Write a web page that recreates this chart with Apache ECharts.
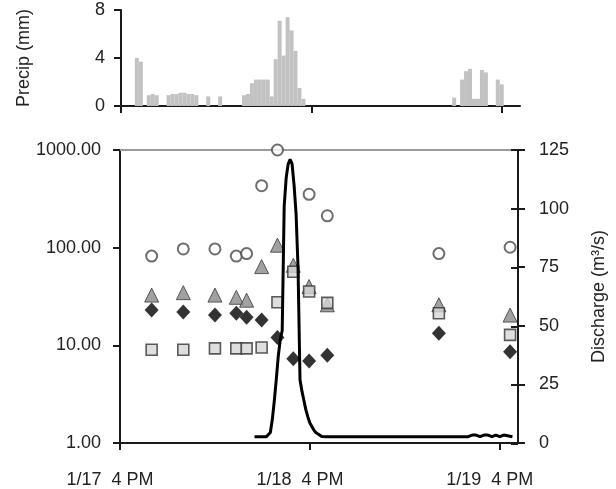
<!DOCTYPE html>
<html>
<head>
<meta charset="utf-8">
<script src="https://cdn.jsdelivr.net/npm/echarts@6/dist/echarts.min.js"></script>
<style>
  html, body { margin: 0; padding: 0; background: #fff; }
  #chart { width: 616px; height: 489px; }
</style>
</head>
<body>
<div id="chart"></div>
<script>
// Time is counted in hours after 1/17 4 PM
const xMaxHours = 50.3;
const tickHours = [0, 24, 48];
const tickLabels = ['1/17  4 PM', '1/18  4 PM', '1/19  4 PM'];
const concTicks = [1, 10, 100, 1000];

// Half-hourly precipitation totals (mm)
const precipHours = [2.0, 2.5, 3.5, 4.0, 4.5, 6.0, 6.5, 7.0, 7.5, 8.0, 8.5, 9.0, 9.5,
  11.0, 12.5, 15.5, 16.0, 16.5, 17.0, 17.5, 18.0, 18.5, 19.0, 19.5, 20.0, 20.5,
  21.0, 21.5, 22.0, 22.5, 23.0,
  42.0, 43.0, 43.5, 44.0, 44.5, 45.0, 45.5, 46.0, 47.5, 48.0];
const precipMm = [4.0, 3.7, 0.9, 1.0, 0.9, 0.9, 1.0, 1.0, 1.1, 1.1, 1.0, 1.0, 0.9,
  0.8, 0.8, 0.9, 1.0, 1.9, 2.2, 2.2, 2.2, 2.2, 0.8, 3.9, 7.1, 4.2,
  7.4, 6.3, 4.6, 1.5, 0.6,
  0.7, 2.2, 2.9, 3.1, 0.6, 0.6, 3.0, 2.8, 2.2, 1.8];

// Grab-sample times (hours) and measured concentrations (log scale)
const sampleHours = [4.0, 8.0, 12.0, 14.7, 16.0, 17.9, 19.9, 21.9, 23.9, 26.2, 40.3, 49.3];
const circleVals   = [82, 97, 97, 82, 87, 431, 1000, null, 352, 212, 87, 101];
const triangleVals = [32.7, 34.6, 32.7, 31, 29, 64, 106, 66, 40, 26, 26, 20.4];
const squareVals   = [9.0, 9.0, 9.3, 9.3, 9.3, 9.5, 27.6, 56.7, 35.6, 27.2, 21.3, 12.8];
const diamondVals  = [23, 22, 20.4, 21.3, 19.4, 18.2, 12, 7.3, 6.9, 7.9, 13.3, 8.6];

// Stream discharge hydrograph (m3/s)
const flowHours = [17, 18, 18.5, 19, 19.25, 19.5, 19.75, 20, 20.25, 20.5, 20.75, 21,
  21.25, 21.5, 21.75, 22, 22.25, 22.5, 22.75, 23, 23.25, 23.5, 23.75, 24, 24.25,
  24.5, 24.75, 25, 25.5, 26, 44, 44.5, 45, 45.5, 46, 46.5, 47, 47.5, 48, 48.5, 49.6];
const flowVals = [2.7, 2.7, 2.7, 4.5, 10, 18, 27, 37, 44, 48, 101, 113,
  119, 121, 119, 110, 98, 75, 27, 22, 18, 14, 11, 8.5, 7,
  5.5, 4.5, 3.8, 2.8, 2.7, 2.7, 3.4, 3.4, 2.7, 3.4, 3.4, 2.7, 3.4, 2.7, 3.4, 2.7];

const zip = (xs, ys) => xs.map((x, i) => [x, ys[i]]);
const zipSkip = (xs, ys) => xs.map((x, i) => [x, ys[i]]).filter(p => p[1] != null);

const FONT = 'Liberation Sans, Arial, sans-serif';
const INK = '#1a1a1a';
const labelStyle = { color: '#222', fontFamily: FONT, fontSize: 18 };
const mainGrid = { left: 120, top: 150, width: 398, height: 294 };

const chart = echarts.init(document.getElementById('chart'), null, { renderer: 'canvas' });

chart.setOption({
  animation: false,
  backgroundColor: '#fff',
  grid: [
    { left: 121, top: 10, width: 399, height: 96 },
    mainGrid,
    // same box again, only carries the inner half of the discharge cross ticks
    { ...mainGrid }
  ],
  xAxis: [
    {
      gridIndex: 0, type: 'value', min: 0, max: xMaxHours,
      axisLine: { lineStyle: { color: INK, width: 2 } },
      axisTick: { customValues: tickHours, length: 7, lineStyle: { color: INK, width: 2 } },
      axisLabel: { show: false },
      splitLine: { show: false }
    },
    {
      gridIndex: 1, type: 'value', min: 0, max: xMaxHours, position: 'bottom',
      axisLine: { onZero: false, lineStyle: { color: INK, width: 2 } },
      axisTick: { customValues: tickHours, length: 7, lineStyle: { color: INK, width: 2 } },
      axisLabel: {
        customValues: tickHours, margin: 28, ...labelStyle,
        padding: [0, 20, 0, 0],
        formatter: v => tickLabels[tickHours.indexOf(v)] || ''
      },
      splitLine: { show: false }
    },
    {
      gridIndex: 1, type: 'value', min: 0, max: xMaxHours, position: 'top',
      axisLine: { onZero: false, lineStyle: { color: '#9a9a9a', width: 2 } },
      axisTick: { show: false }, axisLabel: { show: false }, splitLine: { show: false }
    },
    {
      gridIndex: 2, type: 'value', min: 0, max: xMaxHours, show: false
    }
  ],
  yAxis: [
    {
      gridIndex: 0, type: 'value', min: 0, max: 8, interval: 4,
      name: 'Precip (mm)', nameLocation: 'middle', nameGap: 88, nameRotate: 90,
      nameTextStyle: { ...labelStyle },
      axisLine: { show: true, onZero: false, lineStyle: { color: INK, width: 2 } },
      axisTick: { show: true, length: 7, lineStyle: { color: INK, width: 2 } },
      axisLabel: { margin: 16, ...labelStyle },
      splitLine: { show: false }
    },
    {
      gridIndex: 1, type: 'log', logBase: 10, min: 1, max: 1000,
      interval: 1, splitNumber: 3,
      axisLine: { show: true, onZero: false, lineStyle: { color: INK, width: 2 } },
      axisTick: { show: true, customValues: concTicks, length: 7, lineStyle: { color: INK, width: 2 } },
      minorTick: { show: false },
      axisLabel: {
        customValues: concTicks, margin: 19, ...labelStyle,
        formatter: v => Number(v).toFixed(2)
      },
      splitLine: { show: false }
    },
    {
      gridIndex: 1, type: 'value', position: 'right', min: 0, max: 125, interval: 25,
      name: 'Discharge (m³/s)', nameLocation: 'middle', nameGap: 72, nameRotate: 90,
      nameTextStyle: { ...labelStyle },
      axisLine: { show: true, onZero: false, lineStyle: { color: INK, width: 2 } },
      axisTick: { show: true, length: 7, lineStyle: { color: INK, width: 2 } },
      axisLabel: { margin: 21, ...labelStyle },
      splitLine: { show: false }
    },
    {
      gridIndex: 2, type: 'value', position: 'right', min: 0, max: 125, interval: 25,
      axisLine: { show: false, onZero: false },
      axisTick: { show: true, inside: true, length: 7, lineStyle: { color: INK, width: 2 } },
      axisLabel: { show: false },
      splitLine: { show: false }
    }
  ],
  series: [
    {
      name: 'Precip', type: 'bar', xAxisIndex: 0, yAxisIndex: 0,
      data: zip(precipHours, precipMm), barWidth: 4,
      itemStyle: { color: '#c2c2c2' }, z: 2
    },
    {
      name: 'Circle', type: 'scatter', xAxisIndex: 1, yAxisIndex: 1,
      data: zipSkip(sampleHours, circleVals), symbol: 'circle', symbolSize: 11,
      itemStyle: { color: '#fff', borderColor: '#4a4a4a', borderWidth: 2 }, z: 3
    },
    {
      name: 'Triangle', type: 'scatter', xAxisIndex: 1, yAxisIndex: 1,
      data: zipSkip(sampleHours, triangleVals), symbol: 'triangle', symbolSize: 14,
      itemStyle: { color: '#8a8a8a', borderColor: '#3a3a3a', borderWidth: 1 }, z: 3
    },
    {
      name: 'Square', type: 'scatter', xAxisIndex: 1, yAxisIndex: 1,
      data: zipSkip(sampleHours, squareVals), symbol: 'rect', symbolSize: 11,
      itemStyle: { color: '#d6d6d6', borderColor: '#333', borderWidth: 1.6 }, z: 4
    },
    {
      name: 'Diamond', type: 'scatter', xAxisIndex: 1, yAxisIndex: 1,
      data: zipSkip(sampleHours, diamondVals), symbol: 'diamond', symbolSize: [14, 15],
      itemStyle: { color: '#000' }, z: 5
    },
    {
      name: 'Discharge', type: 'line', xAxisIndex: 1, yAxisIndex: 2,
      data: zip(flowHours, flowVals), showSymbol: false, symbol: 'none',
      lineStyle: { color: '#000', width: 3 }, z: 6
    }
  ]
});
</script>
</body>
</html>
